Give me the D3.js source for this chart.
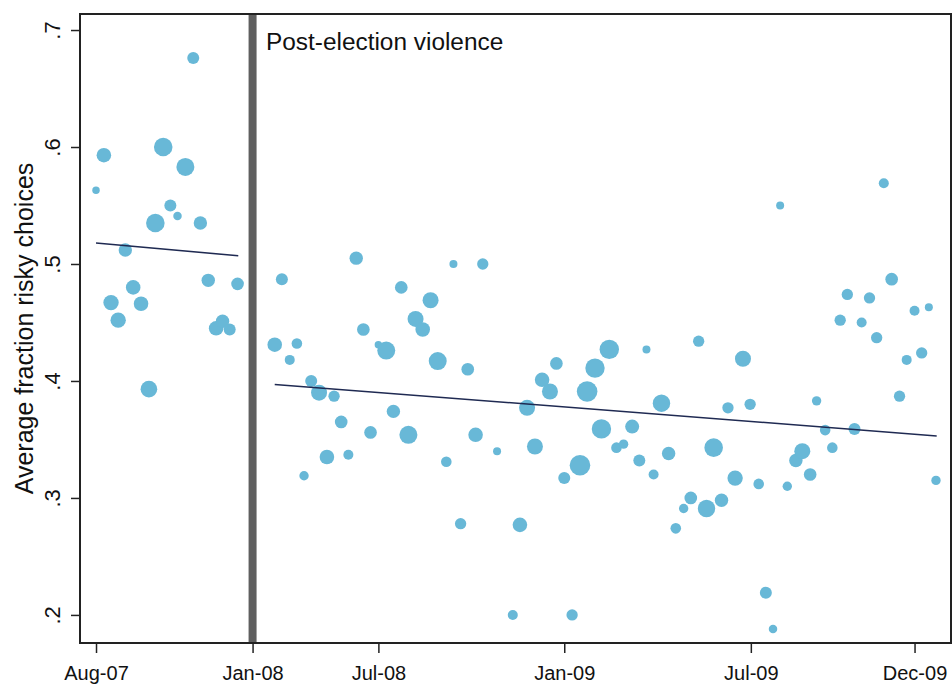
<!DOCTYPE html>
<html>
<head>
<meta charset="utf-8">
<script src="https://cdn.jsdelivr.net/npm/d3@7"></script>
<style>
  body { margin: 0; background: #fff; }
  svg { display: block; font-family: "Liberation Sans", Arial, sans-serif; }
</style>
</head>
<body>
<div id="chart"></div>
<script>
// survey week (from Aug-07, with the violence period taken out), average share of risky choices, respondents
const week = [0, 1.1, 2.1, 3.1, 4.1, 5.2, 6.3, 7.4, 8.3, 9.4, 10.4, 11.4, 12.5, 13.6, 14.6, 15.7, 16.8, 17.7, 18.7, 19.8,
  25.0, 26.0, 27.1, 28.1, 29.1, 30.1, 31.2, 32.3, 33.3, 34.3, 35.3, 36.4, 37.4, 38.4, 39.5, 40.6, 41.6, 42.7, 43.7, 44.7,
  45.7, 46.8, 47.8, 49.0, 50.0, 51.0, 52.0, 53.1, 54.1, 56.1, 58.3, 59.3, 60.3, 61.4, 62.4, 63.5, 64.4, 65.5, 66.6, 67.7,
  68.7, 69.8, 70.7, 71.8, 72.8, 73.8, 75.0, 76.0, 77.0, 78.0, 79.1, 80.1, 81.1, 82.2, 83.2, 84.3, 85.4, 86.4, 87.5, 88.4,
  89.4, 90.5, 91.5, 92.7, 93.7, 94.7, 95.7, 96.7, 97.9, 98.8, 99.9, 100.8, 102.0, 103.0, 104.1, 105.1, 106.1, 107.1, 108.2, 109.2,
  110.2, 111.3, 112.4, 113.4, 114.5, 115.5, 116.5, 117.5];
const share = [0.563, 0.593, 0.467, 0.452, 0.512, 0.480, 0.466, 0.393, 0.535, 0.600, 0.550, 0.541, 0.583, 0.676, 0.535, 0.486, 0.445, 0.451, 0.444, 0.483,
  0.431, 0.487, 0.418, 0.432, 0.319, 0.400, 0.390, 0.335, 0.387, 0.365, 0.337, 0.505, 0.444, 0.356, 0.431, 0.426, 0.374, 0.480, 0.354, 0.453,
  0.444, 0.469, 0.417, 0.331, 0.500, 0.278, 0.410, 0.354, 0.500, 0.340, 0.200, 0.277, 0.377, 0.344, 0.401, 0.391, 0.415, 0.317, 0.200, 0.328,
  0.391, 0.411, 0.359, 0.427, 0.343, 0.346, 0.361, 0.332, 0.427, 0.320, 0.381, 0.338, 0.274, 0.291, 0.300, 0.434, 0.291, 0.343, 0.298, 0.377,
  0.317, 0.419, 0.380, 0.312, 0.219, 0.188, 0.550, 0.310, 0.332, 0.340, 0.320, 0.383, 0.358, 0.343, 0.452, 0.474, 0.359, 0.450, 0.471, 0.437,
  0.569, 0.487, 0.387, 0.418, 0.460, 0.424, 0.463, 0.315];
const respondents = [14, 53, 59, 59, 45, 53, 53, 69, 86, 86, 36, 18, 81, 36, 45, 45, 53, 45, 36, 40,
  53, 36, 25, 28, 22, 36, 64, 53, 32, 40, 25, 45, 40, 40, 14, 81, 45, 40, 81, 64,
  53, 64, 81, 28, 16, 32, 40, 53, 32, 16, 25, 53, 64, 64, 53, 64, 40, 36, 32, 106,
  106, 94, 94, 94, 28, 22, 49, 36, 16, 25, 76, 45, 28, 22, 40, 32, 76, 86, 45, 32,
  59, 64, 32, 28, 36, 18, 16, 22, 45, 64, 40, 22, 28, 28, 32, 32, 36, 25, 32, 32,
  25, 40, 32, 25, 25, 32, 16, 22];

// fitted lines before and after the violence (end points)
const fitPreWeek = [0, 19.9];
const fitPreShare = [0.518, 0.507];
const fitPostWeek = [25.0, 117.6];
const fitPostShare = [0.397, 0.353];

// axis ticks
const yTicks = [0.2, 0.3, 0.4, 0.5, 0.6, 0.7];
const yTickLabels = [".2", ".3", ".4", ".5", ".6", ".7"];
const xTickWeeks = [0, 21.9, 39.5, 65.5, 91.6, 114.5];
const xTickLabels = ["Aug-07", "Jan-08", "Jul-08", "Jan-09", "Jul-09", "Dec-09"];
const violenceWeek = 21.9;

const W = 952, H = 684;
const plot = {left: 80, right: 951, top: 14, bottom: 643};

const x = d3.scaleLinear()
    .domain([-2.24, 119.6])
    .range([plot.left, plot.right]);

const y = d3.scaleLinear()
    .domain([0.176, 0.7137])
    .range([plot.bottom, plot.top]);

const r = d3.scaleSqrt()
    .domain([0, 100])
    .range([0, 10]);

const svg = d3.select("#chart")
  .append("svg")
    .attr("width", W)
    .attr("height", H);

// violence bar
svg.append("rect")
    .attr("x", x(violenceWeek) - 4)
    .attr("y", plot.top)
    .attr("width", 8)
    .attr("height", plot.bottom - plot.top)
    .attr("fill", "#5f5f5f");

// points
const pts = week.map((w, i) => ({w, s: share[i], n: respondents[i]}));
svg.append("g")
  .selectAll("circle")
  .data(pts)
  .join("circle")
    .attr("cx", d => x(d.w))
    .attr("cy", d => y(d.s))
    .attr("r", d => r(d.n))
    .attr("fill", "#68b8d7");

// fitted lines
const line = d3.line()
    .x(d => x(d[0]))
    .y(d => y(d[1]));

[[fitPreWeek, fitPreShare], [fitPostWeek, fitPostShare]].forEach(([ws, ss]) => {
  svg.append("path")
      .datum(ws.map((w, i) => [w, ss[i]]))
      .attr("fill", "none")
      .attr("stroke", "#1f2a52")
      .attr("stroke-width", 1.5)
      .attr("d", line);
});

// frame
svg.append("rect")
    .attr("x", plot.left)
    .attr("y", plot.top)
    .attr("width", plot.right - plot.left)
    .attr("height", plot.bottom - plot.top)
    .attr("fill", "none")
    .attr("stroke", "#222")
    .attr("stroke-width", 2);

// x axis
const xAxis = svg.append("g")
    .attr("transform", `translate(0,${plot.bottom})`)
    .call(d3.axisBottom(x)
      .tickValues(xTickWeeks)
      .tickFormat((d, i) => xTickLabels[i])
      .tickSize(10)
      .tickPadding(13));
xAxis.select(".domain").remove();
xAxis.selectAll("line").attr("stroke", "#222").attr("stroke-width", 1.5);
xAxis.selectAll("text")
    .attr("fill", "#111")
    .style("font-size", "20px")
    .style("font-family", "Liberation Sans, Arial, sans-serif");

// y axis
const yAxis = svg.append("g")
    .attr("transform", `translate(${plot.left},0)`)
    .call(d3.axisLeft(y)
      .tickValues(yTicks)
      .tickFormat((d, i) => yTickLabels[i])
      .tickSize(9));
yAxis.select(".domain").remove();
yAxis.selectAll("line").attr("stroke", "#222").attr("stroke-width", 1.5);
yAxis.selectAll("text")
    .attr("x", null)
    .attr("dy", null)
    .attr("transform", "translate(-20,0) rotate(-90)")
    .attr("text-anchor", "middle")
    .attr("fill", "#111")
    .style("font-size", "22px")
    .style("font-family", "Liberation Sans, Arial, sans-serif");

// labels
svg.append("text")
    .attr("transform", `translate(33,${(plot.top + plot.bottom) / 2}) rotate(-90)`)
    .attr("text-anchor", "middle")
    .attr("fill", "#111")
    .style("font-size", "25px")
    .text("Average fraction risky choices");

svg.append("text")
    .attr("x", 266)
    .attr("y", 50)
    .attr("fill", "#111")
    .style("font-size", "24.4px")
    .text("Post-election violence");
</script>
</body>
</html>
